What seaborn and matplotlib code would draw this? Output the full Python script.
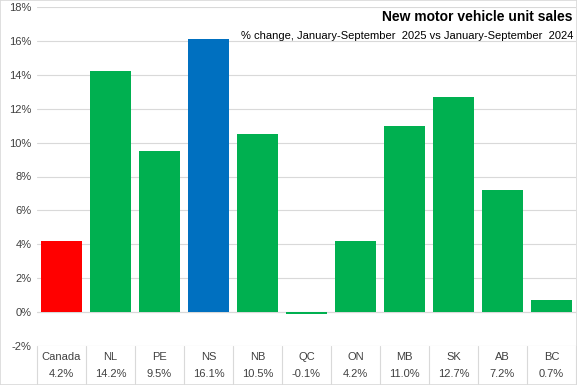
import numpy as np
import pandas as pd
import matplotlib.pyplot as plt
import seaborn as sns
from matplotlib.patches import Rectangle
import matplotlib.transforms as mtransforms

sns.set_theme(style="white")
plt.rcParams['font.family'] = ['Liberation Sans', 'DejaVu Sans']

# Data
regions = ['Canada', 'NL', 'PE', 'NS', 'NB', 'QC', 'ON', 'MB', 'SK', 'AB', 'BC']
pct_change = [4.2, 14.2, 9.5, 16.1, 10.5, -0.1, 4.2, 11.0, 12.7, 7.2, 0.7]
bar_colors = ['#FF0000', '#00B050', '#00B050', '#0070C0', '#00B050', '#00B050',
              '#00B050', '#00B050', '#00B050', '#00B050', '#00B050']

df = pd.DataFrame({'region': regions, 'pct': pct_change})

fig = plt.figure(figsize=(5.77, 3.85), dpi=100)
ax = fig.add_axes([37 / 577, 1 - 346 / 385, 539 / 577, 339 / 385])

sns.barplot(data=df, x='region', y='pct', hue='region', palette=bar_colors,
            width=0.84, legend=False, ax=ax, saturation=1, linewidth=0,
            edgecolor='none')

ax.set_ylim(-2, 18)
ax.set_xlim(-0.5, len(regions) - 0.5)
ax.set_yticks(np.arange(-2, 19, 2))
ax.set_yticklabels([f'{v}%' for v in range(-2, 19, 2)], fontsize=8, color='#404040')
ax.yaxis.grid(True, color='#D9D9D9', linewidth=0.8)
ax.set_axisbelow(True)
ax.axhline(0, color='#D9D9D9', linewidth=0.8, zorder=0)
for s in ax.spines.values():
    s.set_visible(False)
ax.tick_params(axis='both', length=0, pad=4)
ax.set_xlabel('')
ax.set_ylabel('')

# Data table under the chart
ax.set_xticks(range(len(regions)))
ax.set_xticklabels([f'{r}\n{v:.1f}%' for r, v in zip(regions, pct_change)],
                   fontsize=8, color='#404040', linespacing=1.9)
ax.tick_params(axis='x', pad=4)
trans = mtransforms.blended_transform_factory(ax.transData, ax.transAxes)
for i in range(len(regions) + 1):
    ax.plot([i - 0.5, i - 0.5], [0, -0.111], transform=trans, color='#D9D9D9',
            linewidth=0.8, clip_on=False)

# Titles
fig.text(573 / 577, 1 - 17 / 385, 'New motor vehicle unit sales', ha='right',
         va='center', fontsize=10, fontweight='bold', color='black')
fig.text(573 / 577, 1 - 36 / 385,
         '% change, January-September  2025 vs January-September  2024',
         ha='right', va='center', fontsize=8, color='black')

# Outer border
fig.patches.append(Rectangle((0, 0), 1, 1, transform=fig.transFigure, fill=False,
                             edgecolor='#D9D9D9', linewidth=1.2))

fig.savefig('out.png', dpi=100)
